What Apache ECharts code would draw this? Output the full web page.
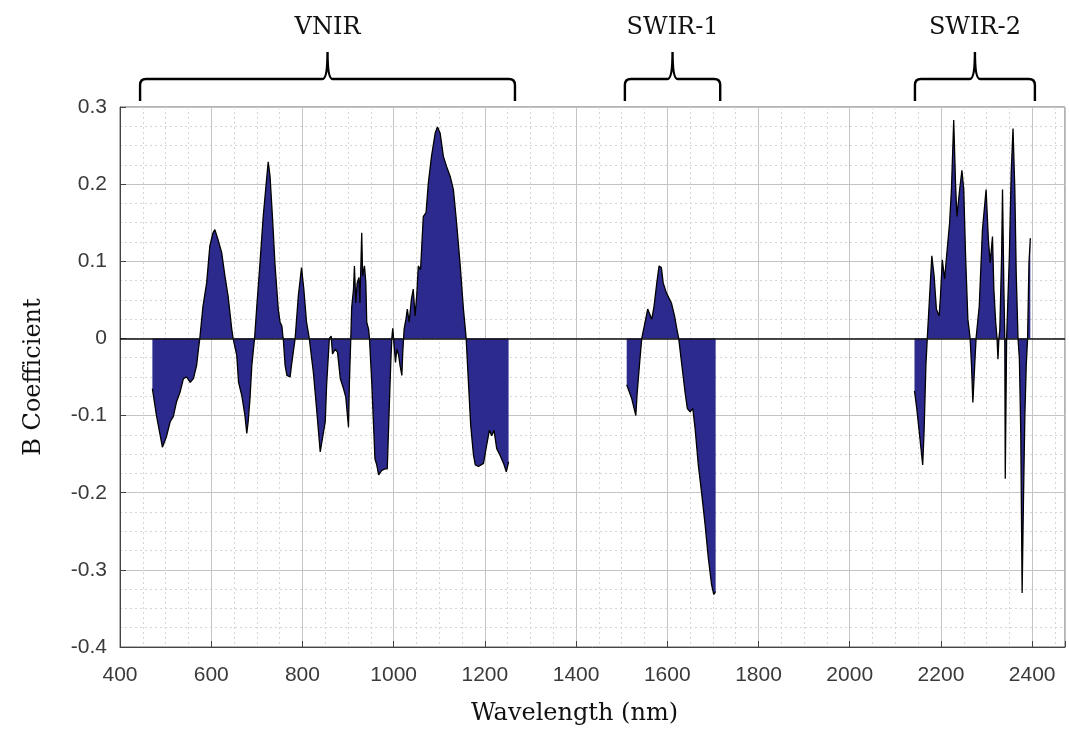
<!DOCTYPE html>
<html>
<head>
<meta charset="utf-8">
<script src="https://cdn.jsdelivr.net/npm/echarts@6/dist/echarts.min.js"></script>
<style>
  html, body { margin: 0; padding: 0; background: #fff; }
  #chart { width: 1069px; height: 737px; }
</style>
</head>
<body>
<div id="chart"></div>
<script>
// B coefficients per wavelength, three spectral regions
var vnirWl = [471, 480, 493, 502, 510, 517, 524, 532, 539, 546, 554, 561, 568, 572, 575,
  582, 590, 597, 604, 608, 614, 623, 630, 637, 645, 648,
  656, 660, 667, 674, 678, 681, 685, 689, 695,
  700, 707, 714, 722, 725, 729, 735, 740, 747, 751, 755, 757, 758,
  762, 766, 773, 776, 784,
  791, 798, 803, 809, 815,
  824, 831, 839, 842, 850, 853, 859, 863, 866, 872, 877, 883, 890, 895, 898, 901, 903, 906,
  908, 912, 914, 917, 920, 924, 926, 930, 932, 936, 939, 941, 945, 947,
  952, 956, 959, 963, 967, 974, 981, 986, 991, 994, 996, 998, 1001, 1004, 1007, 1011, 1014, 1018, 1020,
  1023, 1027, 1030, 1034, 1039, 1043, 1047, 1051, 1054, 1059, 1065, 1071, 1076, 1083, 1091, 1096,
  1102, 1109, 1116, 1124, 1131, 1138, 1146, 1153, 1159,
  1164, 1169, 1175, 1179, 1186, 1197, 1204, 1210, 1215, 1220, 1226, 1233, 1241, 1247, 1252];
var vnirB = [-0.065, -0.100, -0.141, -0.127, -0.108, -0.101, -0.082, -0.069, -0.052, -0.050, -0.057, -0.052, -0.035, -0.014, 0,
  0.042, 0.072, 0.120, 0.137, 0.141, 0.130, 0.111, 0.081, 0.055, 0.012, 0,
  -0.022, -0.057, -0.074, -0.100, -0.123, -0.108, -0.078, -0.035, 0,
  0.042, 0.098, 0.158, 0.210, 0.229, 0.210, 0.150, 0.094, 0.038, 0.021, 0.016, 0.003, 0,
  -0.035, -0.048, -0.050, -0.035, 0,
  0.055, 0.092, 0.064, 0.021, 0,
  -0.044, -0.091, -0.147, -0.145, -0.108, -0.061, 0, 0.003, -0.020, -0.014, -0.018, -0.052, -0.065, -0.076, -0.074, -0.115, -0.057, 0,
  0.040, 0.064, 0.094, 0.046, 0.072, 0.079, 0.046, 0.137, 0.081, 0.094, 0.072, 0.021, 0.012, 0,
  -0.057, -0.113, -0.156, -0.164, -0.177, -0.171, -0.169, -0.169, -0.078, -0.027, 0, 0.013, -0.009, -0.031, -0.014, -0.022, -0.035, -0.048, -0.018,
  0.012, 0.025, 0.038, 0.021, 0.051, 0.064, 0.029, 0.059, 0.094, 0.089, 0.158, 0.163, 0.201, 0.236, 0.266, 0.274,
  0.266, 0.236, 0.223, 0.210, 0.193, 0.150, 0.094, 0.038, 0,
  -0.057, -0.113, -0.151, -0.164, -0.166, -0.162, -0.138, -0.119, -0.126, -0.119, -0.143, -0.151, -0.162, -0.173, -0.160];

var swir1Wl = [1511, 1522, 1531, 1534, 1540, 1544, 1554, 1557, 1566, 1571, 1577, 1582, 1587, 1591, 1598,
  1609, 1616, 1621, 1625, 1632, 1639, 1644, 1650, 1656, 1661, 1668, 1675, 1683, 1690, 1697, 1702, 1706];
var swir1B = [-0.060, -0.078, -0.100, -0.070, -0.027, 0, 0.029, 0.038, 0.025, 0.042, 0.072, 0.094, 0.092, 0.072, 0.059,
  0.046, 0.029, 0.012, 0, -0.035, -0.070, -0.091, -0.095, -0.091, -0.117, -0.164, -0.199, -0.242, -0.285, -0.319, -0.332, -0.328];

var swir2Wl = [2142, 2147, 2154, 2160, 2163, 2167, 2170, 2176, 2180, 2185, 2190, 2196, 2199, 2203, 2208, 2213,
  2219, 2223, 2228, 2232, 2235, 2241, 2246, 2250, 2254, 2259, 2264, 2267, 2270, 2274, 2277,
  2284, 2291, 2299, 2304, 2308, 2313, 2316, 2320, 2323, 2325, 2327, 2329, 2333, 2335, 2338, 2340,
  2341, 2344, 2350, 2354, 2358, 2362, 2365, 2369, 2372, 2375, 2378, 2381, 2384, 2387, 2390, 2393, 2396];
var swir2B = [-0.068, -0.091, -0.130, -0.164, -0.121, -0.035, 0, 0.064, 0.107, 0.081, 0.038, 0.029, 0.055, 0.102, 0.077, 0.111,
  0.150, 0.193, 0.283, 0.201, 0.158, 0.193, 0.218, 0.193, 0.107, 0.025, 0, -0.035, -0.083, -0.035, 0,
  0.042, 0.141, 0.193, 0.128, 0.098, 0.132, 0.064, 0.021, 0, -0.027, 0, 0.010, 0.107, 0.193, 0.064, 0,
  -0.182, 0, 0.107, 0.214, 0.272, 0.193, 0.085, 0, -0.027, -0.121, -0.330, -0.207, -0.100, -0.035, 0, 0.098, 0.130];

// brackets above the plot
var bandNames = ['VNIR', 'SWIR-1', 'SWIR-2'];
var bandStart = [444, 1507, 2143];
var bandEnd = [1266, 1716, 2406];

var xTicks = [400, 600, 800, 1000, 1200, 1400, 1600, 1800, 2000, 2200, 2400];

function pairs(xs, ys) {
  return xs.map(function (x, i) { return [x, ys[i]]; });
}

var fillColor = '#2d2a8d';
var serif = 'DejaVu Serif';
var sans = 'Liberation Sans';

function areaSeries(name, data) {
  return {
    name: name,
    type: 'line',
    data: data,
    showSymbol: false,
    smooth: false,
    lineStyle: {color: '#000', width: 1.3},
    areaStyle: {color: fillColor, opacity: 1},
    z: 3
  };
}

var seriesArr = [
  areaSeries('VNIR', pairs(vnirWl, vnirB)),
  areaSeries('SWIR-1', pairs(swir1Wl, swir1B)),
  areaSeries('SWIR-2', pairs(swir2Wl, swir2B))
];
seriesArr[0].markLine = {
  silent: true,
  symbol: 'none',
  label: {show: false},
  lineStyle: {color: '#111', type: 'solid', width: 1.6},
  data: [{yAxis: 0}]
};

seriesArr.push({
  type: 'custom',
  clip: false,
  silent: true,
  data: bandNames.map(function (n, i) { return [bandStart[i], bandEnd[i], i]; }),
  renderItem: function (params, api) {
    var p1 = api.coord([api.value(0), 0.3]);
    var p2 = api.coord([api.value(1), 0.3]);
    var x1 = p1[0], x2 = p2[0], cx = (x1 + x2) / 2;
    var yb = p1[1] - 6, yh = p1[1] - 28, yt = p1[1] - 55;
    var d = 'M' + x1 + ' ' + yb + ' L' + x1 + ' ' + (yh + 6) +
      ' Q' + x1 + ' ' + yh + ' ' + (x1 + 6) + ' ' + yh +
      ' L' + (cx - 5) + ' ' + yh + ' Q' + cx + ' ' + yh + ' ' + cx + ' ' + yt +
      ' Q' + cx + ' ' + yh + ' ' + (cx + 5) + ' ' + yh +
      ' L' + (x2 - 6) + ' ' + yh + ' Q' + x2 + ' ' + yh + ' ' + x2 + ' ' + (yh + 6) +
      ' L' + x2 + ' ' + yb;
    return {
      type: 'group',
      children: [{
        type: 'path',
        shape: {pathData: d},
        style: {fill: 'none', stroke: '#000', lineWidth: 2.4}
      }, {
        type: 'text',
        x: cx,
        y: p1[1] - 79,
        style: {
          text: bandNames[api.value(2)],
          fill: '#111',
          font: '24px "' + serif + '"',
          align: 'center',
          verticalAlign: 'middle'
        }
      }]
    };
  },
  z: 5
});

var chart = echarts.init(document.getElementById('chart'));
chart.setOption({
  animation: false,
  backgroundColor: '#fff',
  grid: {
    left: 120, top: 107, width: 945, height: 540,
    show: true, borderColor: '#666', borderWidth: 1, backgroundColor: 'transparent'
  },
  xAxis: {
    type: 'value',
    min: 400, max: 2472, interval: 200,
    name: 'Wavelength (nm)',
    nameLocation: 'middle',
    nameGap: 55,
    nameTextStyle: {fontFamily: serif, fontSize: 24, color: '#111', padding: [0, 36, 0, 0]},
    axisLine: {show: true, onZero: false, lineStyle: {color: '#444'}},
    axisTick: {show: true, inside: true, length: 6, lineStyle: {color: '#444'}},
    axisLabel: {
      fontFamily: sans, fontSize: 21, color: '#3a3a3a', margin: 18,
      formatter: function (v) { return xTicks.indexOf(v) >= 0 ? String(v) : ''; }
    },
    splitLine: {show: true, lineStyle: {color: '#c4c4c4', width: 1}},
    minorTick: {show: false, splitNumber: 4},
    minorSplitLine: {show: true, lineStyle: {color: '#d6d6d6', type: [2, 3], width: 1}}
  },
  yAxis: {
    type: 'value',
    min: -0.4, max: 0.3, interval: 0.1,
    name: 'B Coefficient',
    nameLocation: 'middle',
    nameGap: 74,
    nameTextStyle: {fontFamily: serif, fontSize: 24, color: '#111'},
    axisLine: {show: true, lineStyle: {color: '#444'}},
    axisTick: {show: true, inside: true, length: 6, lineStyle: {color: '#444'}},
    axisLabel: {
      fontFamily: sans, fontSize: 21, color: '#3a3a3a', margin: 13,
      formatter: function (v) {
        var r = Math.round(v * 10) / 10;
        return r === 0 ? '0' : r.toFixed(1);
      }
    },
    splitLine: {show: true, lineStyle: {color: '#c4c4c4', width: 1}},
    minorTick: {show: false, splitNumber: 4},
    minorSplitLine: {show: true, lineStyle: {color: '#d6d6d6', type: [2, 3], width: 1}}
  },
  series: seriesArr
});
</script>
</body>
</html>
